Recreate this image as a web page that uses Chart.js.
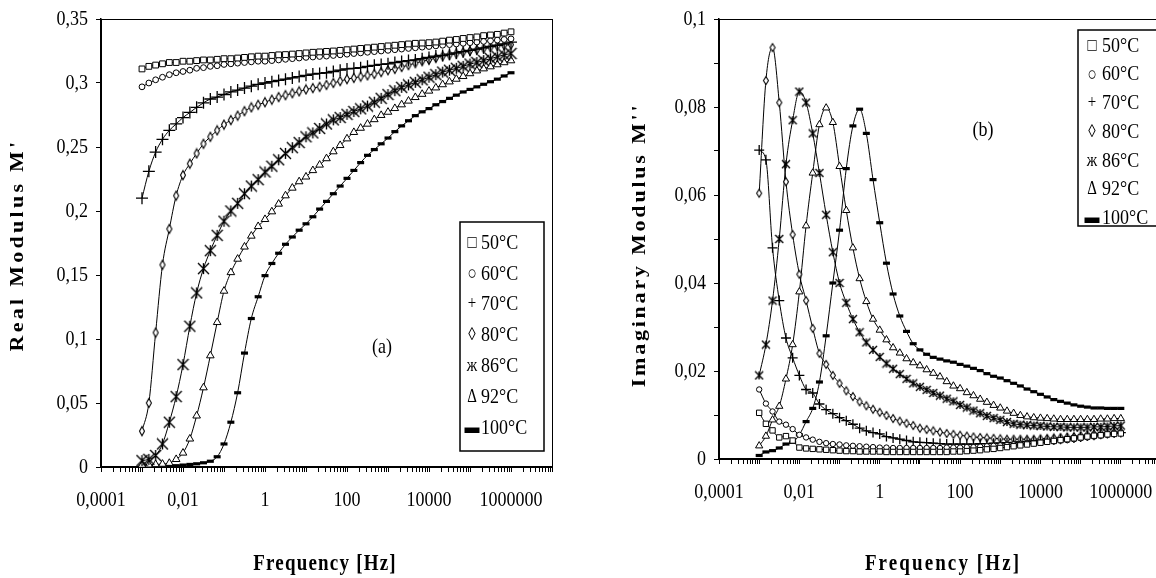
<!DOCTYPE html>
<html><head><meta charset="utf-8">
<script src="https://cdn.jsdelivr.net/npm/chart.js@4.4.1/dist/chart.umd.min.js"></script>
<style>
html,body{margin:0;padding:0;background:#fff;overflow:hidden;width:1156px;height:578px;}
#wrap{position:relative;width:1156px;height:578px;overflow:hidden;background:#fff;}
#c1{position:absolute;left:0;top:0;}
#c2{position:absolute;left:578px;top:0;}
</style></head><body>
<div id="wrap"><canvas id="c1" width="578" height="578"></canvas><canvas id="c2" width="600" height="578"></canvas></div>
<script>
// ---------- DATA ----------
const frequencies = [
  0.001,0.00147,0.00215,0.00316,0.00464,0.00681,
  0.01,0.0147,0.0215,0.0316,0.0464,0.0681,
  0.1,0.147,0.215,0.316,0.464,0.681,
  1,1.47,2.15,3.16,4.64,6.81,
  10,14.7,21.5,31.6,46.4,68.1,
  100,147,215,316,464,681,
  1000,1470,2150,3160,4640,6810,
  10000,14700,21500,31600,46400,68100,
  100000,147000,215000,316000,464000,681000,
  1000000];
const temperatures = ['50°C','60°C','70°C','80°C','86°C','92°C','100°C'];
const legendSymbols = ['□','○','+','◊','ж','Δ','▬'];
const xTickValues = [0.0001,0.01,1,100,10000,1000000];
const xTickLabels = ['0,0001','0,01','1','100','10000','1000000'];
const yTickLabelsA = ['0','0,05','0,1','0,15','0,2','0,25','0,3','0,35'];
const yTickLabelsB = ['0','','0,02','','0,04','','0,06','','0,08','','0,1'];

// Real modulus M' (panel a)
const realM_50 = [0.311,0.313,0.314,0.315,0.316,0.316, 0.317,0.317,0.3175,0.318,0.318,0.3185,
  0.319,0.319,0.3195,0.320,0.3205,0.321, 0.321,0.3215,0.322,0.3222,0.3226,0.323,
  0.3235,0.324,0.3243,0.3247,0.325,0.3255, 0.326,0.3265,0.327,0.3275,0.328,0.3285,
  0.329,0.3295,0.330,0.3305,0.331,0.3312, 0.3315,0.332,0.3327,0.3335,0.334,0.3348,
  0.3355,0.336,0.337,0.3375,0.338,0.339, 0.340];
const realM_60 = [0.297,0.300,0.3025,0.3045,0.3065,0.308, 0.309,0.310,0.3115,0.312,0.313,0.3135,
  0.3145,0.315,0.3155,0.316,0.3165,0.317, 0.317,0.3175,0.318,0.3185,0.319,0.3195,
  0.320,0.3203,0.3207,0.321,0.3215,0.322, 0.3225,0.323,0.3235,0.324,0.3245,0.325,
  0.3255,0.326,0.3265,0.327,0.3275,0.328, 0.3285,0.329,0.3295,0.330,0.3305,0.331,
  0.3315,0.332,0.3325,0.333,0.3335,0.334, 0.3345];
const realM_70 = [0.210,0.231,0.246,0.256,0.263,0.268, 0.273,0.277,0.281,0.2845,0.2875,0.289,
  0.291,0.293,0.2945,0.296,0.2975,0.299, 0.300,0.301,0.302,0.303,0.304,0.305,
  0.306,0.307,0.3075,0.308,0.309,0.310, 0.311,0.3115,0.312,0.313,0.3138,0.3145,
  0.315,0.316,0.3168,0.3175,0.318,0.319, 0.320,0.321,0.3215,0.3225,0.3235,0.3245,
  0.3255,0.3265,0.3275,0.3285,0.3295,0.3305, 0.332];
const realM_80 = [0.028,0.050,0.105,0.158,0.186,0.212, 0.228,0.237,0.245,0.2525,0.258,0.263,
  0.2675,0.271,0.2745,0.278,0.281,0.283, 0.285,0.287,0.289,0.2905,0.292,0.2935,
  0.295,0.296,0.297,0.2985,0.300,0.3015, 0.303,0.304,0.305,0.306,0.307,0.3085,
  0.310,0.311,0.3125,0.314,0.3155,0.317, 0.318,0.3195,0.321,0.322,0.323,0.324,
  0.325,0.326,0.327,0.328,0.329,0.3295, 0.330];
const realM_86 = [0.005,0.006,0.009,0.018,0.035,0.055, 0.080,0.110,0.136,0.155,0.169,0.181,
  0.192,0.200,0.206,0.2135,0.2195,0.2245, 0.2305,0.235,0.240,0.245,0.2495,0.2535,
  0.258,0.261,0.2645,0.268,0.2712,0.273, 0.2755,0.2777,0.2798,0.282,0.285,0.288,
  0.291,0.294,0.2966,0.2985,0.3005,0.3025, 0.3045,0.3065,0.3085,0.310,0.3115,0.313,
  0.3148,0.316,0.3175,0.319,0.3205,0.322, 0.323];
const realM_92 = [0.0015,0.0017,0.002,0.0023,0.003,0.006, 0.011,0.022,0.040,0.062,0.087,0.113,
  0.1375,0.152,0.1625,0.172,0.1805,0.188, 0.1935,0.1995,0.2055,0.212,0.218,0.223,
  0.2267,0.2317,0.236,0.241,0.2464,0.2513, 0.2565,0.2615,0.2648,0.268,0.2715,0.2748,
  0.2773,0.2802,0.2831,0.286,0.2888,0.2913, 0.2938,0.2963,0.2988,0.301,0.3031,0.3052,
  0.3074,0.3096,0.3112,0.3128,0.3144,0.316, 0.3175];
const realM_100 = [0.0005,0.0005,0.0006,0.0007,0.0008,0.001, 0.0015,0.002,0.0025,0.0033,0.0045,0.008,
  0.018,0.035,0.058,0.089,0.116,0.133, 0.1495,0.159,0.167,0.174,0.1797,0.185,
  0.190,0.1955,0.2015,0.2075,0.2135,0.2195, 0.2255,0.2317,0.2378,0.2435,0.248,0.2525,
  0.257,0.262,0.2665,0.2705,0.2745,0.2775, 0.280,0.283,0.2855,0.288,0.2905,0.293,
  0.295,0.297,0.299,0.301,0.303,0.3055, 0.308];

// Imaginary modulus M'' (panel b)
const imagM_50 = [0.0105,0.008,0.0065,0.0049,0.0052,0.0042, 0.0026,0.0024,0.0023,0.0022,0.0021,0.002,
  0.0019,0.0018,0.0018,0.0017,0.0017,0.0017, 0.0017,0.0016,0.0016,0.0016,0.0016,0.0016,
  0.0016,0.0016,0.0016,0.0016,0.0016,0.0017, 0.0017,0.0018,0.0019,0.002,0.0022,0.0023,
  0.0025,0.0027,0.0029,0.0031,0.0033,0.0035, 0.0037,0.0039,0.0041,0.0043,0.0045,0.0047,
  0.0049,0.0051,0.0053,0.0054,0.0056,0.0057, 0.0058];
const imagM_60 = [0.0158,0.0126,0.0108,0.0085,0.0078,0.0068, 0.0055,0.0049,0.0044,0.0039,0.0036,0.0034,
  0.0033,0.0031,0.003,0.0029,0.0028,0.0027, 0.0026,0.0026,0.0025,0.0025,0.0025,0.0025,
  0.0025,0.0025,0.0025,0.0025,0.0026,0.0026, 0.0026,0.0027,0.0027,0.0028,0.0029,0.003,
  0.0031,0.0032,0.0033,0.0034,0.0035,0.0036, 0.0037,0.0039,0.004,0.0042,0.0043,0.0045,
  0.0047,0.0049,0.0051,0.0053,0.0055,0.0058, 0.006];
const imagM_70 = [0.0702,0.068,0.048,0.036,0.0275,0.023, 0.019,0.0158,0.015,0.0125,0.0112,0.0103,
  0.0094,0.0087,0.0079,0.007,0.0064,0.006, 0.0057,0.0051,0.0048,0.0045,0.0042,0.0039,
  0.0038,0.0037,0.0036,0.0035,0.0034,0.0034, 0.0034,0.0034,0.0034,0.0035,0.0035,0.0036,
  0.0036,0.0037,0.0038,0.0039,0.004,0.0041, 0.0042,0.0043,0.0044,0.0045,0.0047,0.0048,
  0.005,0.0052,0.0054,0.0056,0.0058,0.0059, 0.006];
const imagM_80 = [0.0604,0.086,0.0935,0.081,0.063,0.051, 0.042,0.036,0.0297,0.024,0.0215,0.019,
  0.0172,0.0155,0.0142,0.013,0.0121,0.0113, 0.0106,0.0099,0.0092,0.0086,0.0081,0.0076,
  0.007,0.0067,0.0064,0.0061,0.0058,0.0056, 0.0054,0.0052,0.005,0.0049,0.0048,0.0047,
  0.0046,0.0045,0.0045,0.0045,0.0045,0.0045, 0.0046,0.0047,0.0048,0.0049,0.005,0.0051,
  0.0053,0.0055,0.0057,0.0059,0.006,0.0061, 0.0062];
const imagM_86 = [0.019,0.026,0.036,0.050,0.067,0.077, 0.0835,0.081,0.074,0.065,0.0555,0.047,
  0.040,0.0355,0.0318,0.0288,0.0265,0.0248, 0.0232,0.0217,0.0205,0.0193,0.0182,0.0172,
  0.0164,0.0157,0.015,0.0144,0.0137,0.0131, 0.0123,0.0117,0.011,0.0104,0.0098,0.0093,
  0.0089,0.0084,0.008,0.0078,0.0077,0.0076, 0.0075,0.0074,0.0073,0.0073,0.0072,0.0072,
  0.0072,0.0072,0.0073,0.0073,0.0074,0.0075, 0.0076];
const imagM_92 = [0.003,0.0052,0.0089,0.012,0.0182,0.026, 0.038,0.053,0.065,0.076,0.0798,0.0765,
  0.0665,0.0565,0.048,0.041,0.0358,0.0318, 0.0293,0.0271,0.0253,0.0241,0.0228,0.0219,
  0.0212,0.0203,0.0195,0.0187,0.0176,0.0166, 0.016,0.0151,0.0144,0.0136,0.0129,0.0122,
  0.0116,0.0109,0.0104,0.0099,0.0096,0.0094, 0.0093,0.0092,0.0091,0.009,0.009,0.009,
  0.009,0.009,0.009,0.0091,0.0091,0.0092, 0.0092];
const imagM_100 = [0.0008,0.0016,0.0019,0.0025,0.0034,0.0038, 0.0055,0.0085,0.0115,0.0175,0.028,0.040,
  0.052,0.066,0.0757,0.0795,0.074,0.0635, 0.0537,0.0445,0.0375,0.0325,0.029,0.0262,
  0.0248,0.0238,0.0231,0.0227,0.0223,0.022, 0.0215,0.0211,0.0206,0.0201,0.0194,0.0188,
  0.0184,0.0178,0.0172,0.0166,0.0159,0.0153, 0.0147,0.0141,0.0135,0.0131,0.0127,0.0123,
  0.012,0.0118,0.0116,0.0116,0.0115,0.0115, 0.0115];

// ---------- STYLE ----------
const SERIF = "'Liberation Serif','Times New Roman',serif";
const TEXT_STRETCH = 1.22;   // the original figure's lettering is taller than it is wide

// Stretch every text draw vertically (page space) about its anchor point.
function stretchText(canvas, k) {
  const ctx = canvas.getContext('2d');
  const orig = ctx.fillText;
  ctx.fillText = function (t, x, y, mw) {
    const m = this.getTransform();
    const py = m.b * x + m.d * y + m.f;
    this.save();
    this.setTransform(new DOMMatrix([1, 0, 0, k, 0, py * (1 - k)]).multiply(m));
    if (mw === undefined) orig.call(this, t, x, y); else orig.call(this, t, x, y, mw);
    this.restore();
  };
}

function diamondMarker(w, h) {
  const c = document.createElement('canvas');
  c.width = w + 3; c.height = h + 3;
  const g = c.getContext('2d');
  const cx = c.width / 2, cy = c.height / 2;
  g.beginPath(); g.moveTo(cx, cy - h/2); g.lineTo(cx + w/2, cy); g.lineTo(cx, cy + h/2); g.lineTo(cx - w/2, cy); g.closePath();
  g.fillStyle = '#fff'; g.fill(); g.strokeStyle = '#000'; g.lineWidth = 1.1; g.stroke();
  return c;
}
function zheMarker(s, lw) {
  const c = document.createElement('canvas');
  c.width = s + 2; c.height = s + 2;
  const g = c.getContext('2d');
  g.strokeStyle = '#000'; g.lineWidth = lw;
  g.beginPath();
  g.moveTo(c.width/2, 1); g.lineTo(c.width/2, s + 1);
  g.moveTo(1, 1); g.lineTo(s + 1, s + 1);
  g.moveTo(s + 1, 1); g.lineTo(1, s + 1);
  g.stroke();
  return c;
}

const stylesA = [
  {pointStyle:'rect', pointRadius:4.1, pointBorderWidth:1},
  {pointStyle:'circle', pointRadius:2.9, pointBorderWidth:1},
  {pointStyle:'cross', pointRadius:6, pointBorderWidth:1.3},
  {pointStyle:diamondMarker(5, 9), pointRadius:4},
  {pointStyle:zheMarker(11, 1.4), pointRadius:5},
  {pointStyle:'triangle', pointRadius:4.4, pointBorderWidth:1},
  {pointStyle:'line', pointRadius:3.5, pointBorderWidth:3.2}
];
const stylesB = [
  {pointStyle:'rect', pointRadius:3.8, pointBorderWidth:1},
  {pointStyle:'circle', pointRadius:2.7, pointBorderWidth:1},
  {pointStyle:'cross', pointRadius:5, pointBorderWidth:1.3},
  {pointStyle:diamondMarker(5, 8), pointRadius:4},
  {pointStyle:zheMarker(8, 1.4), pointRadius:4},
  {pointStyle:'triangle', pointRadius:4.2, pointBorderWidth:1},
  {pointStyle:'line', pointRadius:3.5, pointBorderWidth:3.2}
];

function makeDatasets(seriesList, styles) {
  return seriesList.map((vals, i) => Object.assign({
    label: temperatures[i],
    data: frequencies.map((f, k) => ({x: f, y: vals[k]})),
    borderColor: '#000', borderWidth: 1, backgroundColor: '#fff',
    pointBackgroundColor: '#fff', pointBorderColor: '#000',
    cubicInterpolationMode: 'monotone', fill: false, clip: false
  }, styles[i]));
}

const allXTicks = [];
for (let e = -4; e <= 6; e++) for (let m = 1; m <= 9; m++) allXTicks.push(Number(m + 'e' + e));
allXTicks.push(1e7);

function xLabel(v) {
  const idx = xTickValues.findIndex(t => Math.abs(Math.log10(t) - Math.log10(v)) < 1e-6);
  return idx >= 0 ? xTickLabels[idx] : '';
}

const decorPlugin = {
  id: 'decor',
  afterDraw(chart, args, o) {
    const ctx = chart.ctx, a = chart.chartArea;
    ctx.save();
    ctx.strokeStyle = '#000'; ctx.lineWidth = 1;
    ctx.strokeRect(a.left + 0.5, a.top + 0.5, a.right - a.left, a.bottom - a.top);
    ctx.fillStyle = '#000';
    // y title
    ctx.save();
    ctx.translate(o.yTitle.x, o.yTitle.y); ctx.rotate(-Math.PI / 2);
    ctx.font = 'bold 18px ' + SERIF; ctx.letterSpacing = o.yTitle.spacing + 'px';
    ctx.textAlign = 'center'; ctx.textBaseline = 'middle';
    ctx.fillText(o.yTitle.text, 0, 0);
    ctx.restore();
    // x title
    ctx.save();
    ctx.font = 'bold 19px ' + SERIF; ctx.letterSpacing = o.xTitle.spacing + 'px';
    ctx.textAlign = 'center'; ctx.textBaseline = 'middle';
    ctx.fillText(o.xTitle.text, o.xTitle.x, o.xTitle.y);
    ctx.restore();
    // panel note
    ctx.font = '18px ' + SERIF; ctx.textAlign = 'center'; ctx.textBaseline = 'middle';
    ctx.fillText(o.note.text, o.note.x, o.note.y);
    // legend
    const L = o.legend;
    ctx.lineWidth = 1.5;
    ctx.strokeRect(L.x, L.y, L.w, L.h);
    ctx.textBaseline = 'middle';
    temperatures.forEach((t, i) => {
      const y = L.firstRow + i * L.rowH;
      ctx.font = '15px ' + SERIF; ctx.textAlign = 'center';
      ctx.fillText(legendSymbols[i], L.symX, y);
      ctx.font = '18px ' + SERIF; ctx.textAlign = 'left';
      ctx.fillText(t, L.textX, y);
    });
    ctx.restore();
  }
};

function makeChart(canvasId, seriesList, styles, cfg) {
  const canvas = document.getElementById(canvasId);
  stretchText(canvas, TEXT_STRETCH);
  return new Chart(canvas, {
    type: 'line',
    data: {datasets: makeDatasets(seriesList, styles)},
    plugins: [decorPlugin],
    options: {
      responsive: false, animation: false, devicePixelRatio: 1, events: [],
      layout: {padding: cfg.padding},
      plugins: {legend: {display: false}, tooltip: {enabled: false}, decor: cfg.decor},
      scales: {
        x: {
          type: 'logarithmic', position: 'bottom', min: 1e-4, max: 1e7,
          afterBuildTicks: s => { s.ticks = allXTicks.map(v => ({value: v})); },
          afterFit: s => { s.height = cfg.xHeight; },
          ticks: {autoSkip: false, maxRotation: 0, minRotation: 0, padding: 17, color: '#000',
                  font: {family: SERIF, size: 18}, callback: v => xLabel(v)},
          grid: {drawOnChartArea: false, drawTicks: true, tickLength: 5, tickColor: '#000', tickWidth: 1},
          border: {display: true, color: '#000', width: 1.5}
        },
        y: {
          type: 'linear', position: 'left', min: 0, max: cfg.yMax,
          ticks: {stepSize: cfg.yStep, autoSkip: false, padding: 8, color: '#000',
                  font: {family: SERIF, size: 18}, callback: (v, i) => cfg.yLabels[i] ?? ''},
          afterFit: s => { s.width = cfg.yWidth; },
          grid: {drawOnChartArea: false, drawTicks: true, tickLength: 5, tickColor: '#000', tickWidth: 1},
          border: {display: true, color: '#000', width: 1.5}
        }
      }
    }
  });
}

makeChart('c1', [realM_50, realM_60, realM_70, realM_80, realM_86, realM_92, realM_100], stylesA, {
  padding: {left: 0, top: 19, right: 26, bottom: 0},
  xHeight: 111, yWidth: 101, yMax: 0.35, yStep: 0.05, yLabels: yTickLabelsA,
  decor: {
    yTitle: {text: "Real Modulus M'", x: 18, y: 245, spacing: 2.7},
    xTitle: {text: 'Frequency [Hz]', x: 325, y: 564, spacing: 1.2},
    note: {text: '(a)', x: 382, y: 347},
    legend: {x: 460, y: 222, w: 84, h: 229, firstRow: 243, rowH: 30.8, symX: 472, textX: 481}
  }
});
makeChart('c2', [imagM_50, imagM_60, imagM_70, imagM_80, imagM_86, imagM_92, imagM_100], stylesB, {
  padding: {left: 0, top: 19, right: 11, bottom: 0},
  xHeight: 119, yWidth: 141, yMax: 0.1, yStep: 0.01, yLabels: yTickLabelsB,
  decor: {
    yTitle: {text: "Imaginary Modulus M''", x: 62, y: 245, spacing: 2.3},
    xTitle: {text: 'Frequency [Hz]', x: 365, y: 564, spacing: 2.1},
    note: {text: '(b)', x: 405, y: 130},
    legend: {x: 500, y: 30, w: 82, h: 196, firstRow: 46, rowH: 28.7, symX: 514, textX: 524}
  }
});
</script>
</body></html>
